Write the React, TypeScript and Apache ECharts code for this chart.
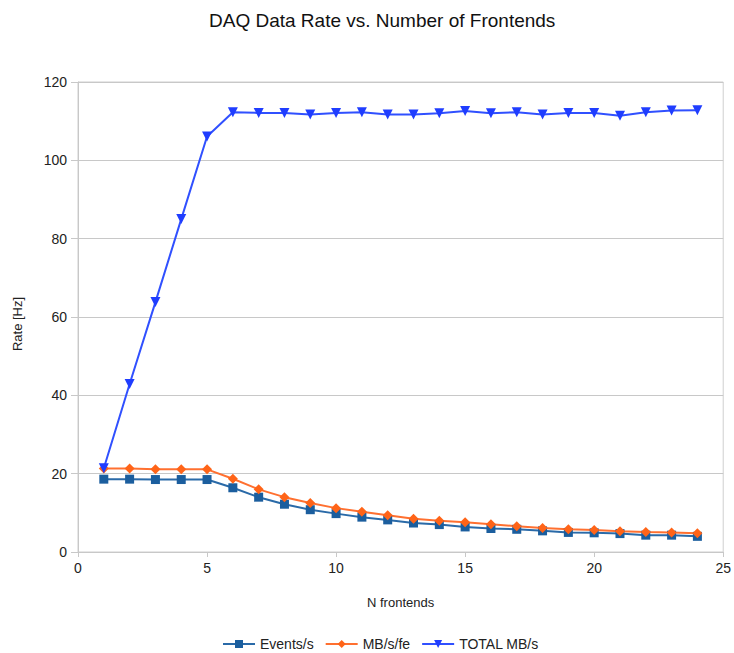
import React, { useEffect, useRef } from "react";
import * as echarts from "echarts";

const frontends = [1, 2, 3, 4, 5, 6, 7, 8, 9, 10, 11, 12, 13, 14, 15, 16, 17, 18, 19, 20, 21, 22, 23, 24];
const eventsPerSec = [18.6, 18.6, 18.5, 18.5, 18.5, 16.4, 14.0, 12.2, 10.8, 9.8, 8.9, 8.2, 7.4, 7.0, 6.4, 6.0, 5.8, 5.4, 5.0, 4.9, 4.7, 4.3, 4.3, 4.0];
const mbPerFe = [21.3, 21.3, 21.1, 21.1, 21.1, 18.7, 16.0, 14.0, 12.5, 11.2, 10.3, 9.4, 8.5, 8.0, 7.6, 7.1, 6.6, 6.1, 5.8, 5.6, 5.3, 5.1, 5.0, 4.8];
const totalMBs = [21.4, 42.9, 63.8, 85.0, 106.1, 112.3, 112.1, 112.1, 111.7, 112.1, 112.3, 111.7, 111.7, 112.0, 112.6, 112.0, 112.3, 111.7, 112.1, 112.1, 111.4, 112.3, 112.7, 112.8];

const seriesNames = ["Events/s", "MB/s/fe", "TOTAL MB/s"];
const xTicks = { min: 0, max: 25, interval: 5 };
const yTicks = { min: 0, max: 120, interval: 20 };

const FONT = "Liberation Sans, Arial, sans-serif";

export default function App() {
  const ref = useRef<HTMLDivElement>(null);
  useEffect(() => {
    if (!ref.current) return;
    const chart = echarts.init(ref.current, undefined, { renderer: "svg" });
    const pair = (ys: number[]) => frontends.map((x, i) => [x, ys[i]]);
    chart.setOption({
      animation: false,
      backgroundColor: "#ffffff",
      textStyle: { fontFamily: FONT },
      title: {
        text: "DAQ Data Rate vs. Number of Frontends",
        left: 204,
        top: 6,
        textStyle: { fontFamily: FONT, fontSize: 19, fontWeight: "normal", color: "#111" },
      },
      grid: {
        left: 78,
        right: 5,
        top: 82,
        bottom: 101,
        show: true,
        borderColor: "#cfcfcf",
        borderWidth: 1,
        containLabel: false,
      },
      legend: {
        top: 632,
        left: 217,
        itemWidth: 32,
        itemHeight: 10,
        itemGap: 11,
        textStyle: { fontFamily: FONT, fontSize: 14, color: "#222" },
        data: seriesNames,
      },
      xAxis: {
        type: "value",
        min: xTicks.min,
        max: xTicks.max,
        interval: xTicks.interval,
        name: "N frontends",
        nameLocation: "middle",
        nameGap: 44,
        nameTextStyle: { fontFamily: FONT, fontSize: 13, color: "#222" },
        axisLine: { show: true, lineStyle: { color: "#c8c8c8", width: 1 } },
        axisTick: { show: true, length: 5, lineStyle: { color: "#c8c8c8" } },
        axisLabel: { fontFamily: FONT, fontSize: 14, color: "#222", margin: 9 },
        splitLine: { show: false },
      },
      yAxis: {
        type: "value",
        min: yTicks.min,
        max: yTicks.max,
        interval: yTicks.interval,
        name: "Rate [Hz]",
        nameLocation: "middle",
        nameGap: 54,
        nameTextStyle: { fontFamily: FONT, fontSize: 13, color: "#222", padding: [0, 0, 0, -14] },
        axisLine: { show: true, lineStyle: { color: "#c8c8c8", width: 1 } },
        axisTick: { show: true, length: 7, lineStyle: { color: "#c8c8c8" } },
        axisLabel: { fontFamily: FONT, fontSize: 14, color: "#222", margin: 11 },
        splitLine: { show: true, lineStyle: { color: "#c8c8c8", width: 1 } },
      },
      series: [
        {
          name: seriesNames[0],
          type: "line",
          data: pair(eventsPerSec),
          symbol: "rect",
          symbolSize: 9,
          color: "#1b5e9e",
          lineStyle: { width: 2, color: "#2a6aa8" },
          itemStyle: { color: "#1b5e9e" },
        },
        {
          name: seriesNames[1],
          type: "line",
          data: pair(mbPerFe),
          symbol: "diamond",
          symbolSize: 10,
          color: "#ff6418",
          lineStyle: { width: 2, color: "#ff7030" },
          itemStyle: { color: "#ff6418" },
        },
        {
          name: seriesNames[2],
          type: "line",
          data: pair(totalMBs),
          symbol: "triangle",
          symbolRotate: 180,
          symbolSize: 10,
          color: "#1f3dff",
          lineStyle: { width: 2, color: "#3050ff" },
          itemStyle: { color: "#1f3dff" },
        },
      ],
    });
    return () => chart.dispose();
  }, []);
  return (
    <div
      ref={ref}
      style={{ position: "fixed", left: 0, top: 0, width: 734, height: 653 }}
    />
  );
}
